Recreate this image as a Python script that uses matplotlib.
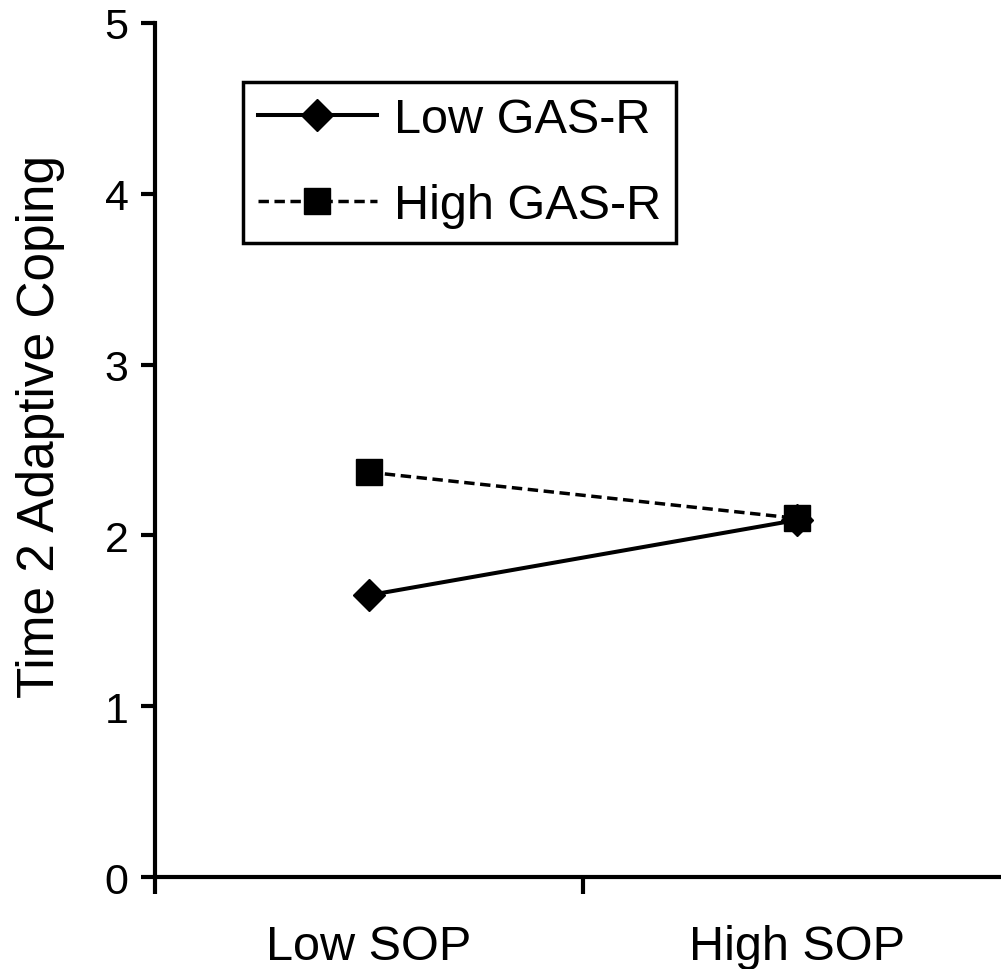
import matplotlib
matplotlib.use("Agg")
from matplotlib import pyplot as plt

# data
categories = ["Low SOP", "High SOP"]
low_gas = [1.65, 2.09]
high_gas = [2.37, 2.10]
y_ticks = [0, 1, 2, 3, 4, 5]

plt.rcParams["font.family"] = ["Liberation Sans", "DejaVu Sans"]

fig = plt.figure(figsize=(10.01, 9.70), dpi=100)
ax = fig.add_axes([0.1548, 0.0948, 0.855, 0.8805])

x = [0.5, 1.5]
ax.plot(x, low_gas, color="black", linestyle="-", linewidth=2.9,
        marker="D", markersize=16, label="Low GAS-R", clip_on=False)
ax.plot(x, high_gas, color="black", linestyle=(0, (3.0, 1.6)), linewidth=2.5,
        marker="s", markersize=19, label="High GAS-R", clip_on=False)

ax.set_xlim(0, 2)
ax.set_ylim(0, 5)
ax.set_yticks(y_ticks)
ax.set_xticks([0, 1, 2])
ax.set_xticklabels([])
ax.set_xticks(x, minor=True)
ax.set_xticklabels(categories, minor=True)
ax.tick_params(axis="x", which="minor", length=0, pad=34, labelsize=35)
ax.tick_params(axis="x", which="major", length=12, width=3, direction="out")
ax.tick_params(axis="y", length=10, width=3, direction="out", pad=9, labelsize=31)

for side in ["top", "right"]:
    ax.spines[side].set_visible(False)
for side in ["left", "bottom"]:
    ax.spines[side].set_linewidth(3)

ax.set_ylabel("Time 2 Adaptive Coping", fontsize=37)
ax.yaxis.set_label_coords(0.065, 0.56, transform=fig.transFigure)

leg = ax.legend(loc="upper left", bbox_to_anchor=(0.2428, 0.9144),
                bbox_transform=fig.transFigure, fontsize=35, frameon=True,
                fancybox=False, edgecolor="black", framealpha=1,
                borderaxespad=0, handlelength=2.45, handletextpad=0.35,
                borderpad=0.3, labelspacing=0.85)
leg.get_frame().set_linewidth(2.5)

plt.savefig("out.png", dpi=100)
plt.close()
